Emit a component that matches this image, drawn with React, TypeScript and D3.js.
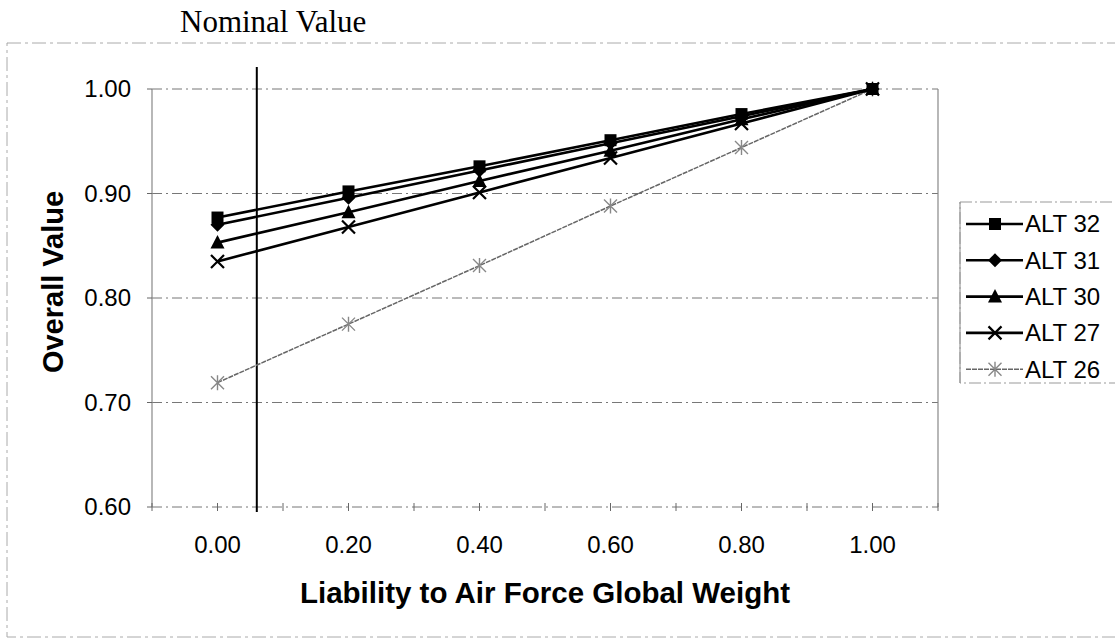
import React from "react";
import * as d3 from "d3";

const weights = [0, 0.2, 0.4, 0.6, 0.8, 1.0];
const xTickValues = [0, 0.2, 0.4, 0.6, 0.8, 1.0];
const xMinorTicks = [-0.1, 0, 0.1, 0.2, 0.3, 0.4, 0.5, 0.6, 0.7, 0.8, 0.9, 1.0, 1.1];
const yTickValues = [0.6, 0.7, 0.8, 0.9, 1.0];
const nominalWeight = 0.06;

const alt32 = [0.877, 0.902, 0.926, 0.951, 0.976, 1.0];
const alt31 = [0.870, 0.896, 0.922, 0.948, 0.974, 1.0];
const alt30 = [0.853, 0.882, 0.912, 0.941, 0.971, 1.0];
const alt27 = [0.835, 0.868, 0.901, 0.934, 0.967, 1.0];
const alt26 = [0.719, 0.775, 0.831, 0.888, 0.944, 1.0];

const seriesNames = ["ALT 32", "ALT 31", "ALT 30", "ALT 27", "ALT 26"];
const seriesValues = [alt32, alt31, alt30, alt27, alt26];
const markerKinds = ["square", "diamond", "triangle", "x", "star"];

const W = 1115;
const H = 639;
const plot = { left: 152, right: 938, top: 89, bottom: 507 };

function Marker({ kind, cx, cy }: { kind: string; cx: number; cy: number }) {
  if (kind === "square") {
    return <rect x={cx - 6} y={cy - 6} width={12} height={12} fill="#000" />;
  }
  if (kind === "diamond") {
    return <path d={`M${cx},${cy - 7}L${cx + 7},${cy}L${cx},${cy + 7}L${cx - 7},${cy}Z`} fill="#000" />;
  }
  if (kind === "triangle") {
    return <path d={`M${cx},${cy - 7.5}L${cx + 7},${cy + 6}L${cx - 7},${cy + 6}Z`} fill="#000" />;
  }
  if (kind === "x") {
    return (
      <path
        d={`M${cx - 6.5},${cy - 6.5}L${cx + 6.5},${cy + 6.5}M${cx - 6.5},${cy + 6.5}L${cx + 6.5},${cy - 6.5}`}
        stroke="#000"
        strokeWidth={2.2}
      />
    );
  }
  return (
    <path
      d={`M${cx - 6.5},${cy - 6.5}L${cx + 6.5},${cy + 6.5}M${cx - 6.5},${cy + 6.5}L${cx + 6.5},${cy - 6.5}M${cx},${cy - 7.5}L${cx},${cy + 7.5}`}
      stroke="#888"
      strokeWidth={1.4}
    />
  );
}

export default function App() {
  const x = d3.scaleLinear().domain([-0.1, 1.1]).range([plot.left, plot.right]);
  const y = d3.scaleLinear().domain([0.6, 1.0]).range([plot.bottom, plot.top]);
  const line = d3
    .line<number>()
    .x((_, i) => x(weights[i]))
    .y((d) => y(d));

  const legendX = 960;
  const legendY = 202;
  const legendRowY = (i: number) => legendY + 22 + i * 36.3;

  return (
    <svg
      width={W}
      height={H}
      style={{ position: "absolute", left: 0, top: 0, background: "#fff" }}
      fontFamily="'Liberation Sans', Arial, sans-serif"
    >
      {/* outer chart frame */}
      <rect x={7} y={43} width={1120} height={594} fill="none" stroke="#aaa" strokeWidth={1} strokeDasharray="14,4,3,4" />

      {/* Nominal Value label */}
      <text x={180} y={32} fontFamily="'Liberation Serif', 'Times New Roman', serif" fontSize={31} fill="#000">
        Nominal Value
      </text>

      {/* gridlines */}
      {yTickValues.map((v) => (
        <line
          key={v}
          x1={plot.left}
          x2={plot.right}
          y1={y(v)}
          y2={y(v)}
          stroke="#777"
          strokeWidth={1}
          strokeDasharray="10,4,2,4"
        />
      ))}
      {/* plot border left/right */}
      <line x1={plot.left} x2={plot.left} y1={plot.top} y2={plot.bottom} stroke="#888" strokeWidth={1.2} />
      <line x1={plot.right} x2={plot.right} y1={plot.top} y2={plot.bottom} stroke="#888" strokeWidth={1.2} />

      {/* y ticks */}
      {yTickValues.map((v) => (
        <g key={"yt" + v}>
          <line x1={plot.left - 5} x2={plot.left} y1={y(v)} y2={y(v)} stroke="#666" />
          <text x={131} y={y(v)} dy="0.35em" textAnchor="end" fontSize={24} fill="#000">
            {d3.format(".2f")(v)}
          </text>
        </g>
      ))}

      {/* x ticks */}
      {xMinorTicks.map((v) => (
        <line key={"xm" + v} x1={x(v)} x2={x(v)} y1={plot.bottom - 4} y2={plot.bottom + 4} stroke="#666" />
      ))}
      {xTickValues.map((v) => (
        <text key={"xt" + v} x={x(v)} y={553} textAnchor="middle" fontSize={24} fill="#000">
          {d3.format(".2f")(v)}
        </text>
      ))}

      {/* axis titles */}
      <text x={545} y={603} textAnchor="middle" fontSize={29.5} fontWeight="bold" fill="#000">
        Liability to Air Force Global Weight
      </text>
      <text
        transform={`translate(63,282) rotate(-90)`}
        textAnchor="middle"
        fontSize={29}
        fontWeight="bold"
        fill="#000"
      >
        Overall Value
      </text>

      {/* nominal line */}
      <line x1={x(nominalWeight)} x2={x(nominalWeight)} y1={67} y2={512} stroke="#000" strokeWidth={2} />

      {/* series lines (ALT 26 first so it sits beneath) */}
      {seriesValues
        .map((vals, i) => ({ vals, i }))
        .reverse()
        .map(({ vals, i }) => (
          <g key={seriesNames[i]}>
            <path
              d={line(vals) || ""}
              fill="none"
              stroke={i === 4 ? "#666" : "#000"}
              strokeWidth={i === 4 ? 1.5 : 2.6}
              strokeDasharray={i === 4 ? "5,1" : undefined}
            />
            {vals.map((v, j) => (
              <Marker key={j} kind={markerKinds[i]} cx={x(weights[j])} cy={y(v)} />
            ))}
          </g>
        ))}

      {/* legend */}
      <rect x={legendX} y={legendY} width={160} height={181} fill="#fff" stroke="#999" strokeWidth={1} strokeDasharray="12,3,2,3" />
      <line x1={legendX} x2={legendX} y1={legendY} y2={legendY + 181} stroke="#999" strokeWidth={1.2} />
      {seriesNames.map((name, i) => (
        <g key={"lg" + name}>
          <line
            x1={966}
            x2={1023}
            y1={legendRowY(i)}
            y2={legendRowY(i)}
            stroke={i === 4 ? "#666" : "#000"}
            strokeWidth={i === 4 ? 1.5 : 2.6}
            strokeDasharray={i === 4 ? "5,1" : undefined}
          />
          <Marker kind={markerKinds[i]} cx={995} cy={legendRowY(i)} />
          <text x={1025} y={legendRowY(i)} dy="0.35em" fontSize={24} fill="#000">
            {name}
          </text>
        </g>
      ))}
    </svg>
  );
}
